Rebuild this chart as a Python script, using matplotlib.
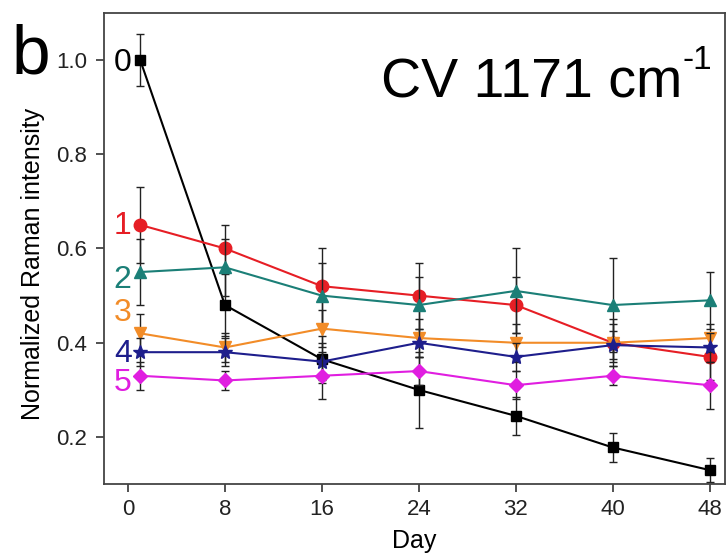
import numpy as np
import matplotlib.pyplot as plt

plt.rcParams['font.family'] = ['Liberation Sans', 'DejaVu Sans']

days = [1, 8, 16, 24, 32, 40, 48]
labels = ['0', '1', '2', '3', '4', '5']

s0 = [1.00, 0.48, 0.365, 0.30, 0.245, 0.178, 0.13]
e0 = [0.055, 0.065, 0.05, 0.08, 0.04, 0.03, 0.025]
s1 = [0.65, 0.60, 0.52, 0.50, 0.48, 0.40, 0.37]
e1 = [0.08, 0.05, 0.08, 0.07, 0.06, 0.05, 0.05]
s2 = [0.55, 0.56, 0.50, 0.48, 0.51, 0.48, 0.49]
e2 = [0.07, 0.06, 0.07, 0.06, 0.09, 0.10, 0.06]
s3 = [0.42, 0.39, 0.43, 0.41, 0.40, 0.40, 0.41]
e3 = [0.04, 0.03, 0.04, 0.04, 0.04, 0.04, 0.03]
s4 = [0.38, 0.38, 0.36, 0.40, 0.37, 0.395, 0.39]
e4 = [0.03, 0.03, 0.04, 0.03, 0.03, 0.03, 0.03]
s5 = [0.33, 0.32, 0.33, 0.34, 0.31, 0.33, 0.31]
e5 = [0.03, 0.02, 0.05, 0.03, 0.03, 0.02, 0.05]

label_y = [1.0, 0.655, 0.54, 0.47, 0.383, 0.322]

series = [s0, s1, s2, s3, s4, s5]
errs = [e0, e1, e2, e3, e4, e5]
colors = ['black', '#e61e25', '#1b7f77', '#f28c28', '#1e1e8c', '#e01ee0']
markers = ['s', 'o', '^', 'v', '*', 'D']
msizes = [7, 9, 9, 9, 10, 7]

fig = plt.figure(figsize=(7.26, 5.54), dpi=100)
ax = fig.add_axes([0.143, 0.126, 0.856, 0.851])

for i in range(len(series)):
    ax.errorbar(days, series[i], yerr=errs[i], color=colors[i], ecolor='#222222',
                elinewidth=1.0, capsize=3, capthick=1.0, marker=markers[i],
                markersize=msizes[i], linewidth=1.5, zorder=3 + i)
    ax.text(0.3, label_y[i], labels[i], color=colors[i], fontsize=23,
            ha='right', va='center_baseline')

ax.set_xlim(-2, 49.3)
ax.set_ylim(0.1, 1.1)
ax.set_xticks([0, 8, 16, 24, 32, 40, 48])
ax.set_yticks([0.2, 0.4, 0.6, 0.8, 1.0])
ax.set_yticklabels(['0.2', '0.4', '0.6', '0.8', '1.0'])
ax.tick_params(labelsize=16, length=6, width=1.2, direction='out', colors='#333333')
ax.tick_params(axis='x', labelcolor='#222222', pad=5)
ax.tick_params(axis='y', labelcolor='#222222', pad=6)
for sp in ax.spines.values():
    sp.set_linewidth(1.3)
    sp.set_color('#444444')
ax.set_xlabel('Day', fontsize=18, labelpad=6)
ax.set_ylabel('Normalized Raman intensity', fontsize=18)
ax.yaxis.set_label_coords(-0.095, 0.467)

ax.text(0.931, 0.82, 'CV 1171 cm', transform=ax.transAxes, fontsize=40,
        ha='right', va='baseline')
ax.text(0.979, 0.932, '-1', transform=ax.transAxes, fontsize=24,
        ha='right', va='top')
fig.text(0.016, 0.868, 'b', fontsize=50)

plt.savefig('out.png', dpi=100)
